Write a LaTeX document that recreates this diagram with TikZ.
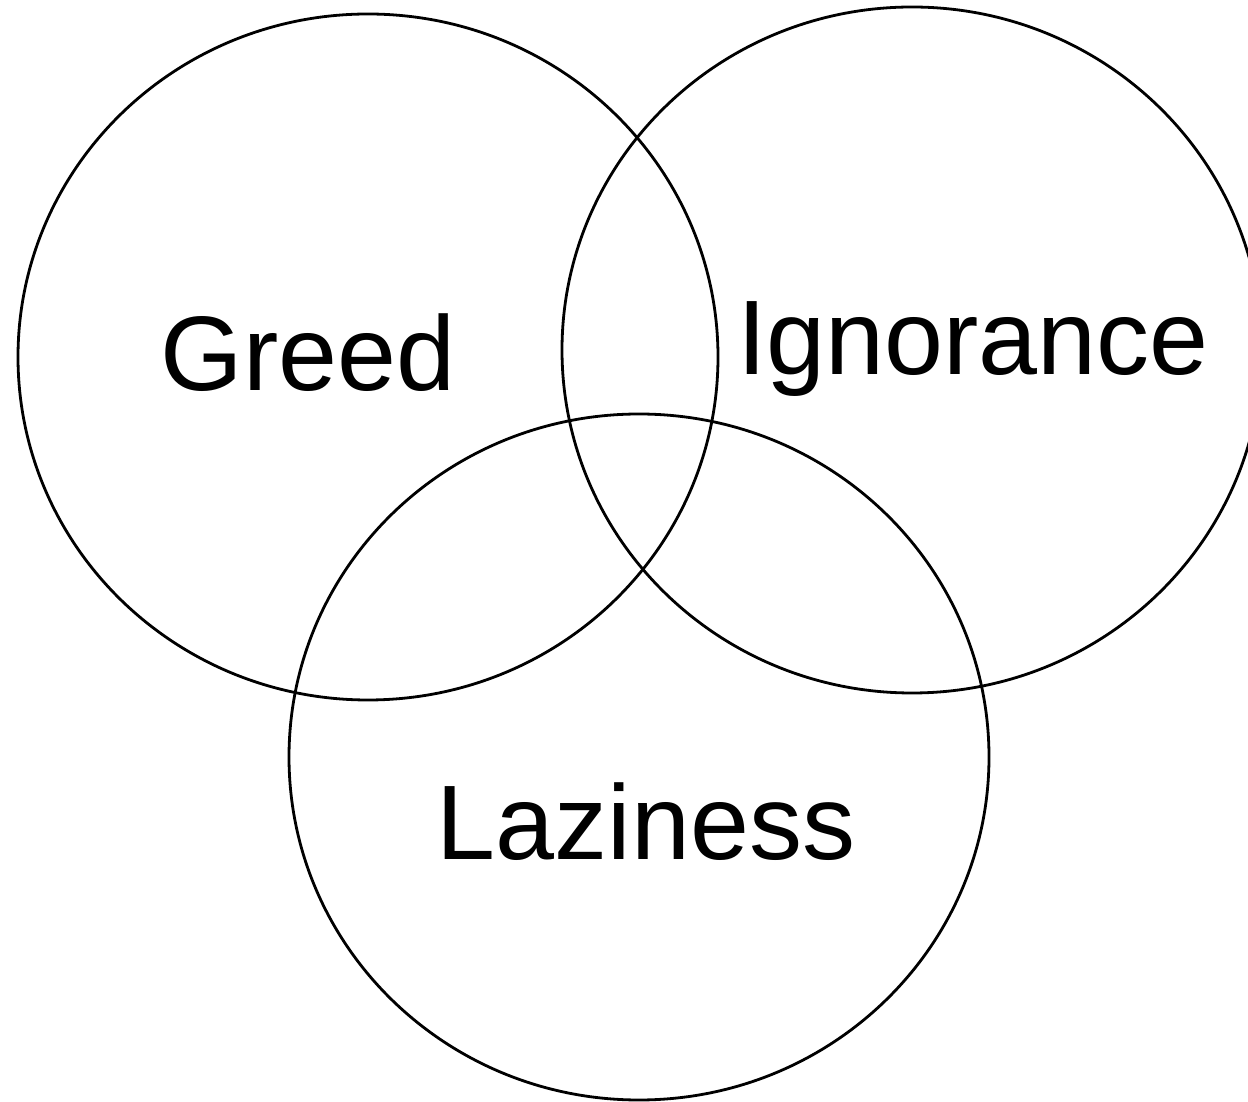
\documentclass[tikz,border=0pt]{standalone}
\usepackage{fontspec}
\setmainfont{Liberation Sans}
\usetikzlibrary{shapes.geometric}
\begin{document}
\begin{tikzpicture}[x=1pt,y=1pt,
  setring/.style={draw=black,line width=2.8pt,ellipse,inner sep=0pt,minimum width=700pt,minimum height=686pt},
  setlabel/.style={inner sep=0pt,anchor=base,font=\fontsize{106}{110}\selectfont}]
\useasboundingbox (0,0) rectangle (1248,1101);
\node[setring] (greedset) at (368,744) {};
\node[setring] (ignset) at (912,751) {};
\node[setring] (lazyset) at (639,344) {};
\node[setlabel] (greed) at (308,710) {Greed};
\node[setlabel] (ign) at (973,726) {Ignorance};
\node[setlabel] (lazy) at (646,241) {Laziness};
\end{tikzpicture}
\end{document}
